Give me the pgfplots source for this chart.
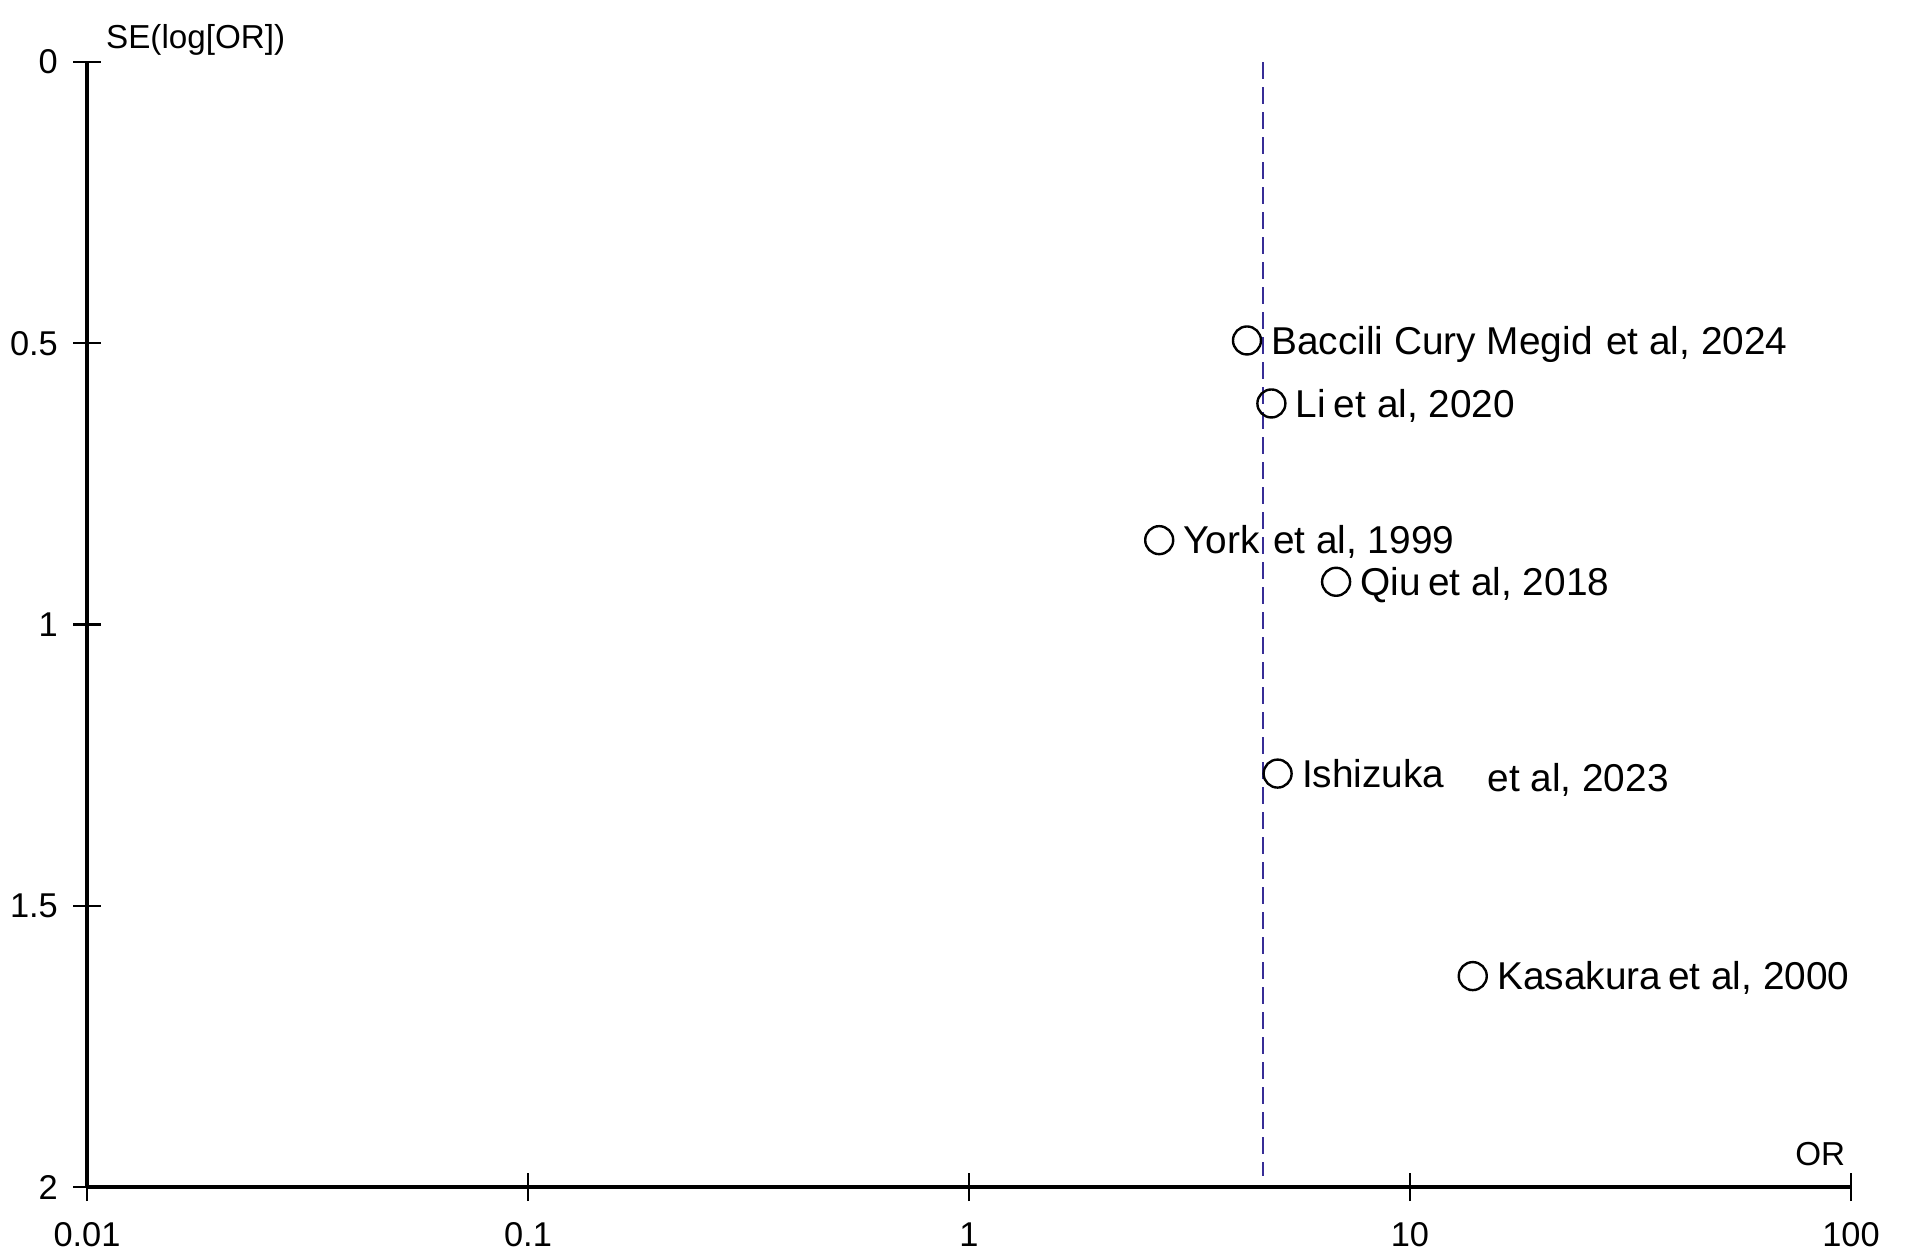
\documentclass[border=0pt]{standalone}
\usepackage{pgfplots}
\pgfplotsset{compat=1.18}
\usepackage{pgfplotstable}
\usepackage{fontspec}
\setmainfont{Liberation Sans}
\definecolor{dashblue}{RGB}{55,45,150}
\pgfplotstableread[col sep=semicolon]{
x;y;label
4.27;0.495;Baccili Cury Megid\hspace{3.4pt}et al, 2024
4.85;0.607;Li\hspace{2pt}et al, 2020
2.70;0.850;York\hspace{3.3pt}et al, 1999
6.80;0.924;Qiu\hspace{1.8pt}et al, 2018
5.01;1.265;Ishizuka\hspace{10.8pt}\raisebox{-1.2pt}{et al, 2023}
13.88;1.625;Kasakura\hspace{1.8pt}et al, 2000
}\studies
\begin{document}
\begin{tikzpicture}
\begin{axis}[
  scale only axis,
  width=441pt, height=281.25pt,
  xmode=log, xmin=0.01, xmax=100,
  ymin=0, ymax=2, y dir=reverse,
  axis lines=left,
  every outer x axis line/.append style={-},
  every outer y axis line/.append style={-},
  every inner x axis line/.append style={-},
  every inner y axis line/.append style={-},
  axis line style={-, line width=0.8pt, black},
  xtick={0.01,0.1,1,10,100},
  xticklabels={0.01,0.1,1,10,100},
  ytick={0,0.5,1,1.5,2},
  yticklabels={0,0.5,1,1.5,2},
  minor xtick={}, minor ytick={},
  xminorticks=false, yminorticks=false,
  tick align=center,
  major tick length=7pt,
  tick style={line width=0.6pt, black},
  /pgf/number format/assume math mode=true,
  ticklabel style={font=\fontsize{8.6}{10}\selectfont, inner sep=0pt},
  yticklabel style={anchor=east, xshift=-3.6pt},
  xticklabel style={anchor=north, yshift=-5.2pt},
  clip=false,
]
\addplot[dashblue, line width=0.7pt, dash pattern=on 4.25pt off 2pt] coordinates {(4.64,0) (4.64,1.98)};
\addplot[only marks, mark=o, mark size=3.5pt, mark options={line width=0.6pt, black},
  nodes near coords, point meta=explicit symbolic,
  nodes near coords style={anchor=base west, inner sep=0pt, xshift=5.8pt, yshift=-3.4pt,
    font=\fontsize{9.7}{11}\selectfont, black}]
  table[x=x, y=y, meta=label]{\studies};
\node[anchor=base west, inner sep=0pt, font=\fontsize{8.3}{9.6}\selectfont] at (axis description cs:0,1) [xshift=4.6pt, yshift=3.5pt] {SE(log[OR])};
\node[anchor=base east, inner sep=0pt, font=\fontsize{8.3}{9.6}\selectfont] at (axis description cs:1,0) [xshift=-1.25pt, yshift=5.5pt] {OR};
\end{axis}
\pgfresetboundingbox
\path[use as bounding box] (-21.75pt,-17.5pt) rectangle (456.5pt,296.75pt);
\end{tikzpicture}
\end{document}
